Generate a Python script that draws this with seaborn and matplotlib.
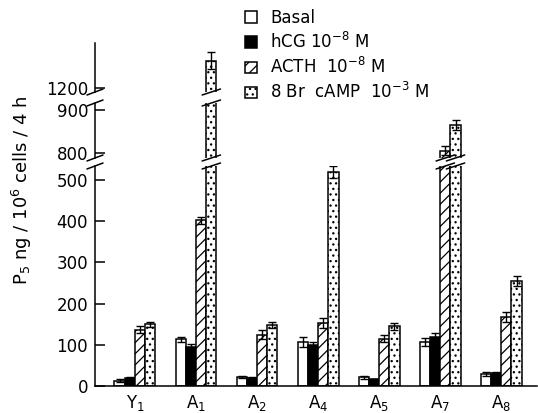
import matplotlib
matplotlib.use("Agg")
import matplotlib.pyplot as plt
import matplotlib.transforms as mtransforms
from matplotlib.patches import Patch
import pandas as pd
import seaborn as sns

# ---------------- data ----------------
cell_lines = ["Y1", "A1", "A2", "A4", "A5", "A7", "A8"]
tick_labels = [r"Y$_1$", r"A$_1$", r"A$_2$", r"A$_4$", r"A$_5$", r"A$_7$", r"A$_8$"]
treatments = ["Basal", "hCG", "ACTH", "8Br cAMP"]
legend_labels = ["Basal", r"hCG 10$^{-8}$ M", r"ACTH  10$^{-8}$ M", r"8 Br  cAMP  10$^{-3}$ M"]

basal = [13, 113, 22, 107, 21, 107, 29]
hcg = [19, 95, 20, 99, 16, 118, 31]
acth = [137, 402, 125, 153, 115, 805, 168]
camp = [150, 1265, 148, 520, 145, 865, 255]

basal_err = [3, 7, 3, 12, 3, 10, 4]
hcg_err = [3, 6, 3, 8, 2, 10, 3]
acth_err = [8, 8, 10, 12, 8, 10, 12]
camp_err = [6, 20, 8, 15, 8, 12, 12]

bottom_ticks = [0, 100, 200, 300, 400, 500]
middle_ticks = [800, 900]
top_ticks = [1200]

# ---------------- styling ----------------
sns.set_theme(style="white")
plt.rcParams["font.family"] = ["DejaVu Sans"]
plt.rcParams["mathtext.default"] = "regular"
plt.rcParams["hatch.linewidth"] = 0.9
for k in ("text.color", "axes.labelcolor", "xtick.color", "ytick.color",
          "axes.edgecolor"):
    plt.rcParams[k] = "black"

values = [basal, hcg, acth, camp]
errors = [basal_err, hcg_err, acth_err, camp_err]
rows = []
for t, vals, errs in zip(treatments, values, errors):
    for c, v, e in zip(cell_lines, vals, errs):
        rows.append({"line": c, "treatment": t, "value": v, "err": e})
df = pd.DataFrame(rows)

faces = {"Basal": "white", "hCG": "black", "ACTH": "white", "8Br cAMP": "white"}
hatches = {"Basal": "", "hCG": "", "ACTH": "///", "8Br cAMP": "..."}

W, H = 538, 413
fig = plt.figure(figsize=(W / 100, H / 100), dpi=100)

left_px, right_px = 95, 537


def rect(top_px, bot_px):
    return [left_px / W, 1 - bot_px / H, (right_px - left_px) / W, (bot_px - top_px) / H]


ax_top = fig.add_axes(rect(43, 92))
ax_mid = fig.add_axes(rect(103, 158))
ax_bot = fig.add_axes(rect(166, 386))

limits = {ax_top: (1190, 1307), ax_mid: (788, 916), ax_bot: (0, 534)}
ticks = {ax_top: top_ticks, ax_mid: middle_ticks, ax_bot: bottom_ticks}
bar_conts = {}

for ax in (ax_top, ax_mid, ax_bot):
    sns.barplot(data=df, x="line", y="value", hue="treatment", order=cell_lines,
                hue_order=treatments, palette=faces, width=0.67, errorbar=None,
                edgecolor="black", linewidth=1.1, legend=False, ax=ax)
    conts = list(ax.containers)
    bar_conts[ax] = conts
    for t, cont in zip(treatments, conts):
        for p in cont.patches:
            p.set_hatch(hatches[t])
            p.set_edgecolor("black")
    # error bars
    for t, cont in zip(treatments, conts):
        sub = df[df.treatment == t].set_index("line").loc[cell_lines]
        xs = [p.get_x() + p.get_width() / 2 for p in cont.patches]
        ax.errorbar(xs, sub["value"], yerr=sub["err"], fmt="none", ecolor="black",
                    elinewidth=1.0, capsize=3, capthick=1.0, zorder=5)
    ax.set_ylim(*limits[ax])
    ax.set_xlim(-0.654, 6.586)
    ax.set_yticks(ticks[ax])
    ax.set_xlabel("")
    ax.set_ylabel("")
    ax.tick_params(axis="y", direction="in", length=7, width=1.1, labelsize=12,
                   left=True, pad=5, colors="black")
    for s in ("top", "right"):
        ax.spines[s].set_visible(False)
    ax.spines["left"].set_linewidth(1.1)
    ax.spines["left"].set_color("black")
    ax.patch.set_alpha(0)

for ax in (ax_top, ax_mid):
    ax.spines["bottom"].set_visible(False)
    ax.set_xticks([])

ax_bot.spines["bottom"].set_linewidth(1.1)
ax_bot.spines["bottom"].set_color("black")
ax_bot.set_xticks(range(len(cell_lines)))
ax_bot.set_xticklabels(tick_labels, fontsize=12, color="black")
ax_bot.tick_params(axis="x", length=0, pad=5)

# break marks on the spine
for ax, ends in ((ax_top, [0]), (ax_mid, [0, 1]), (ax_bot, [1])):
    h_px = ax.get_position().height * H
    for e in ends:
        dy = 3 / h_px
        ax.plot([-8 / (right_px - left_px), 8 / (right_px - left_px)],
                [e - dy, e + dy], transform=ax.transAxes, color="black",
                lw=1.1, clip_on=False)

# break marks on bars that cross the gaps
for ax in (ax_top, ax_mid, ax_bot):
    lo, hi = limits[ax]
    h_px = ax.get_position().height * H
    blend = mtransforms.blended_transform_factory(ax.transData, ax.transAxes)
    for cont in bar_conts[ax]:
        for p in cont.patches:
            xc = p.get_x() + p.get_width() / 2
            hw = p.get_width() * 0.9
            top = p.get_height()
            dy = 3 / h_px
            if top > hi:
                ax.plot([xc - hw, xc + hw], [1 - dy, 1 + dy], transform=blend,
                        color="black", lw=1.1, clip_on=False, zorder=6)
            if ax is not ax_bot and top > lo:
                ax.plot([xc - hw, xc + hw], [-dy, dy], transform=blend,
                        color="black", lw=1.1, clip_on=False, zorder=6)

# legend
handles = [Patch(facecolor=faces[t], edgecolor="black", hatch=hatches[t], linewidth=1.1)
           for t in treatments]
fig.legend(handles=handles, labels=legend_labels, loc="upper left",
           bbox_to_anchor=(245 / W, 1 - 9 / H), frameon=False, fontsize=12,
           handlelength=0.7, handleheight=0.7, handletextpad=0.8,
           labelspacing=0.3, borderaxespad=0, borderpad=0, labelcolor="black")

fig.text(22 / W, 1 - 190 / H, r"P$_5$ ng / 10$^6$ cells / 4 h", rotation=90,
         ha="center", va="center", fontsize=13, color="black")

fig.savefig("out.png", dpi=100)
